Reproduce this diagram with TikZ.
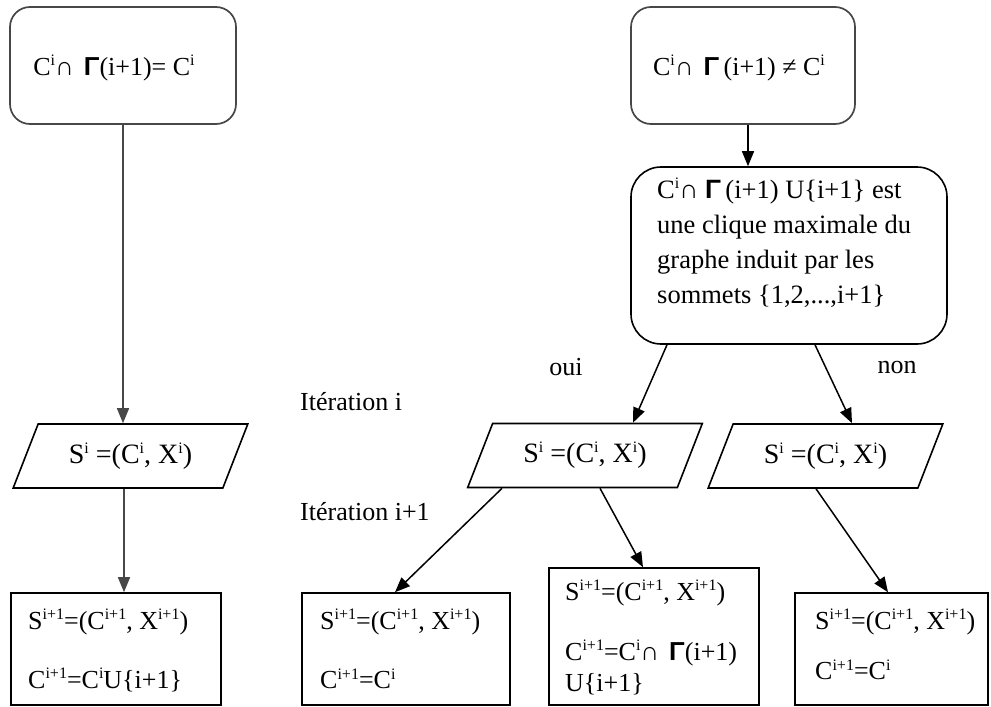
\documentclass[tikz,border=0pt]{standalone}
\usepackage{fontspec}
\setmainfont{Liberation Serif}
\setsansfont{Liberation Sans}
\usetikzlibrary{arrows.meta,shapes.geometric}

% small raised text for exponents
\newcommand\supr[1]{\raisebox{0.36em}{\fontsize{16}{16}\selectfont #1}}
\newcommand\Gam{{\sffamily\bfseries Γ}}

\begin{document}
\begin{tikzpicture}[x=1pt,y=-1pt,
  txt/.style={font=\fontsize{26}{32}\selectfont, inner sep=0pt},
  rbox/.style={draw=black!72, line width=1.7pt, rounded corners=20pt, inner sep=0pt, font=\fontsize{26}{32}\selectfont},
  bigbox/.style={draw=black, line width=1.6pt, rounded corners=30pt, inner sep=0pt},
  sqbox/.style={draw=black, line width=1.6pt, inner sep=0pt},
  para/.style={draw=black, line width=1.6pt, trapezium, trapezium left angle=58, trapezium right angle=122,
     trapezium stretches=true, minimum width=235, minimum height=64, inner sep=0pt, font=\fontsize{28}{32}\selectfont},
  arr/.style={line width=1.5pt, -{Triangle[length=15pt,width=12pt]}},
  garr/.style={arr, draw=black!72, fill=black!72}
]
\useasboundingbox (0,0) rectangle (991,707);

% top conditions
\node[rbox, minimum width=226, minimum height=117] (b1) at (123,65.5) {};
\node[txt] (t1) at (114,68) {C\supr{i}∩\hspace{10pt}\Gam(i+1)= C\supr{i}};
\node[rbox, minimum width=224, minimum height=117] (b2) at (743,65.5) {};
\node[txt] (t2) at (739,68) {C\supr{i}∩\hspace{10pt}\Gam\,(i+1) ≠ C\supr{i}};

% maximal clique test
\node[bigbox, minimum width=316, minimum height=177] (b3) at (789,255.5) {};
\node[txt, anchor=north west, align=left, font=\fontsize{26.5}{35}\selectfont] (t3) at (657,178)
  {C\supr{i}∩ \Gam\,(i+1) U\{i+1\} est\\
   une clique maximale du\\
   graphe induit par les\\
   sommets \{1,2,...,i+1\}};

% states S^i
\node[para] (p1) at (130.5,456) {S\supr{i} =(C\supr{i}, X\supr{i})};
\node[para] (p2) at (585,455.5) {S\supr{i} =(C\supr{i}, X\supr{i})};
\node[para] (p3) at (825.5,456) {S\supr{i} =(C\supr{i}, X\supr{i})};

% labels
\node[txt] (oui) at (566,367) {oui};
\node[txt] (non) at (897,367) {non};
\node[txt, anchor=west] (it1) at (300,402) {Itération i};
\node[txt, anchor=west] (it2) at (300,512) {Itération i+1};

% resulting states S^{i+1}
\node[sqbox, minimum width=210, minimum height=112] (q1) at (116,649) {};
\node[sqbox, minimum width=208, minimum height=112] (q2) at (406,649) {};
\node[sqbox, minimum width=210, minimum height=137] (q3) at (654,636.5) {};
\node[sqbox, minimum width=193, minimum height=112] (q4) at (891.5,649) {};

\node[txt, anchor=west] (q1a) at (28,622) {S\supr{i+1}=(C\supr{i+1}, X\supr{i+1})};
\node[txt, anchor=west] (q1b) at (28,680) {C\supr{i+1}=C\supr{i}U\{i+1\}};
\node[txt, anchor=west] (q2a) at (320,622) {S\supr{i+1}=(C\supr{i+1}, X\supr{i+1})};
\node[txt, anchor=west] (q2b) at (320,679) {C\supr{i+1}=C\supr{i}};
\node[txt, anchor=west] (q3a) at (565,593) {S\supr{i+1}=(C\supr{i+1}, X\supr{i+1})};
\node[txt, anchor=west] (q3b) at (565,653) {C\supr{i+1}=C\supr{i}∩\hspace{10pt}\Gam(i+1)};
\node[txt, anchor=west] (q3c) at (565,684) {U\{i+1\}};
\node[txt, anchor=west] (q4a) at (815,622) {S\supr{i+1}=(C\supr{i+1}, X\supr{i+1})};
\node[txt, anchor=west] (q4b) at (815,670) {C\supr{i+1}=C\supr{i}};

% connectors
\draw[garr] (b1.south) -- (b1.south |- p1.north);
\draw[garr] ([xshift=1]b1.south |- p1.south) -- ([xshift=1]b1.south |- q1.north);
\draw[arr] ([xshift=5]b2.south) -- ([xshift=5]b2.south |- b3.north);
\draw[arr] ([xshift=-122]b3.south) -- ([xshift=48]p2.north);
\draw[arr] ([xshift=26]b3.south) -- ([xshift=26.5]p3.north);
\draw[arr] ([xshift=-83]p2.south) -- ([xshift=-11]q2.north);
\draw[arr] ([xshift=15]p2.south) -- ([xshift=-11]q3.north);
\draw[arr] ([xshift=-9.5]p3.south) -- ([xshift=-3.5]q4.north);
\end{tikzpicture}
\end{document}
